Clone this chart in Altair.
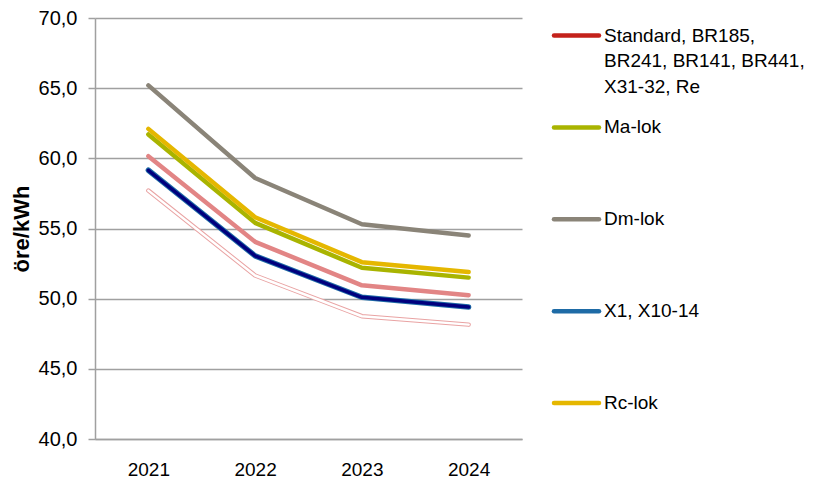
import altair as alt
import pandas as pd

years = ["2021", "2022", "2023", "2024"]
dm_lok = [65.2, 58.6, 55.3, 54.5]
rc_lok = [62.1, 55.8, 52.6, 51.9]
ma_lok = [61.7, 55.4, 52.2, 51.5]
standard = [60.15, 54.05, 50.95, 50.25]
x1_lok = [59.15, 53.05, 50.1, 49.4]
other = [57.7, 51.65, 48.75, 48.15]

y_ticks = [40, 45, 50, 55, 60, 65, 70]

legend_labels = [
    ["Standard, BR185,", "BR241, BR141, BR441,", "X31-32, Re"],
    ["Ma-lok"],
    ["Dm-lok"],
    ["X1, X10-14"],
    ["Rc-lok"],
]
legend_colors = ["#C4221B", "#A9B400", "#8A8478", "#1E6BA6", "#E5B700"]

FONT = "Liberation Sans"

series = {
    "other": other,
    "x1": x1_lok,
    "standard": standard,
    "ma": ma_lok,
    "rc": rc_lok,
    "dm": dm_lok,
}
rows = []
for name, vals in series.items():
    for yr, v in zip(years, vals):
        rows.append({"series": name, "year": yr, "value": v})
df = pd.DataFrame(rows)

x_enc = alt.X(
    "year:N",
    sort=years,
    scale=alt.Scale(type="point", padding=0.5),
    axis=alt.Axis(
        title=None, labelAngle=0, ticks=False, tickSize=0, labelPadding=21,
        labelFontSize=19, labelFont=FONT, labelColor="black",
        domainColor="#A0A0A0", domainWidth=1.5, grid=False,
    ),
)
y_enc = alt.Y(
    "value:Q",
    scale=alt.Scale(domain=[40, 70], nice=False, zero=False),
    axis=alt.Axis(
        values=y_ticks,
        labelExpr="replace(format(datum.value, '.1f'), '.', ',')",
        title="öre/kWh", titleFont=FONT, titleFontSize=22, titleFontWeight="bold",
        titleColor="black", titlePadding=5,
        labelFont=FONT, labelFontSize=20, labelColor="black",
        tickSize=7, labelPadding=11, tickColor="#A0A0A0", tickWidth=1.5,
        domainColor="#A0A0A0", domainWidth=1.5,
        gridColor="#A0A0A0", gridWidth=1.5,
    ),
)

base = alt.Chart(df).encode(x=x_enc, y=y_enc, detail="series:N")


def line(name, color, width):
    return base.transform_filter(alt.datum.series == name).mark_line(
        color=color, strokeWidth=width, strokeCap="round", strokeJoin="round"
    )


no_frame = alt.ViewBackground(stroke="transparent", strokeWidth=0)

main = alt.layer(
    line("other", "#E9A3A3", 4.5),
    line("other", "#FFFFFF", 2.5),
    line("x1", "#1E6BA6", 5.5),
    line("x1", "#00007E", 3.5),
    line("standard", "#E28585", 4.5),
    line("ma", "#A9B400", 4.5),
    line("rc", "#E5B700", 4.5),
    line("dm", "#8A8478", 4.5),
).properties(width=427, height=421, view=no_frame)

# legend
sym_rows = []
txt_rows = []
for i, (labels, col) in enumerate(zip(legend_labels, legend_colors)):
    yy = 17.5 + i * 91.9
    sym_rows.append({"x0": 0, "x1": 45, "y": yy, "color": col})
    for j, t in enumerate(labels):
        txt_rows.append({"x": 50, "y": yy + j * 25.7, "text": t})

lx = alt.Scale(domain=[0, 200], nice=False, zero=False)
ly = alt.Scale(domain=[0, 421], nice=False, zero=False, reverse=True)

leg_sym = alt.Chart(pd.DataFrame(sym_rows)).mark_rule(strokeWidth=4.5, strokeCap="round").encode(
    x=alt.X("x0:Q", scale=lx, axis=None),
    x2="x1:Q",
    y=alt.Y("y:Q", scale=ly, axis=None),
    color=alt.Color("color:N", scale=None),
)
leg_txt = alt.Chart(pd.DataFrame(txt_rows)).mark_text(
    align="left", baseline="middle", fontSize=19, font=FONT, color="black"
).encode(
    x=alt.X("x:Q", scale=lx, axis=None),
    y=alt.Y("y:Q", scale=ly, axis=None),
    text="text:N",
)
legend = alt.layer(leg_sym, leg_txt).properties(width=200, height=421, view=no_frame)

chart = (
    alt.hconcat(main, legend, spacing=29)
    .properties(padding={"left": 2, "top": 0, "right": 0, "bottom": 0})
    .configure_view(stroke="transparent", strokeWidth=0)
    .configure(background="white")
)

chart.save("out.html", embed_options={"renderer": "svg", "actions": False})
